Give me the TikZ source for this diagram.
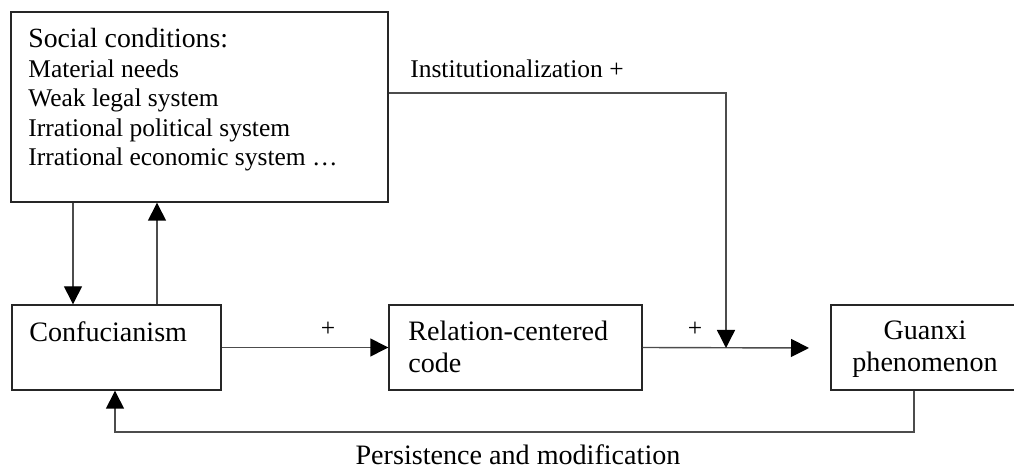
\documentclass[tikz,border=0pt]{standalone}
\usepackage{fontspec}
\setmainfont{Liberation Serif}
\usetikzlibrary{arrows.meta}
\tikzset{
    box/.style={rectangle, draw=black!85, line width=0.8pt, inner sep=0mm}
}
\tikzset{
    txt/.style={inner sep=0mm, font=\fontsize{16}{17.9}\selectfont},
    small/.style={inner sep=0mm, font=\fontsize{14.5}{16.8}\selectfont},
    link/.style={draw=black!70, line width=0.8pt, -{Triangle[length=3.6mm, width=3.6mm, color=black]}}
}

\begin{document}
\begin{tikzpicture}[x=0.2mm, y=-0.2mm]
        \clip (0,0) rectangle (1014,473);
        \node (social) [box, minimum width=75.4mm, minimum height=38mm] at (199.5,107) {};
        \node (conf) [box, minimum width=41.8mm, minimum height=17mm] at (116.5,347.5) {};
        \node (rel) [box, minimum width=50.6mm, minimum height=17mm] at (515.5,347.5) {};
        \node (guanxi) [box, minimum width=37.6mm, minimum height=17mm] at (925,347.5) {};
        \node (socialtxt) [small, align=left, anchor=north west] at (28,28) {{\fontsize{15.8}{17}\selectfont Social conditions:}\\
                Material needs\\ Weak legal system\\ Irrational political system\\ Irrational economic system \dots};
        \node (conftxt) [txt, anchor=north west] at (29,321) {Confucianism};
        \node (reltxt) [txt, align=left, anchor=north west] at (408,321) {Relation-centered\\ code};
        \node (guanxitxt) [txt, align=center, anchor=north] at (925,321) {Guanxi\\ phenomenon};
        \node (insttxt) [small, anchor=base west] at (410,78) {Institutionalization +};
        \node (plusa) [small] at (328,329) {+};
        \node (plusb) [small] at (695,329) {+};
        \node (persist) [txt, anchor=base] at (518,465) {Persistence and modification};
        \coordinate (down) at (73,0);
        \coordinate (up) at (157,0);
        \coordinate (inst) at (726,93);
        \coordinate (join) at (726,348);
        \coordinate (gend) at (809,348);
        \coordinate (fbr) at (914,432);
        \coordinate (fbl) at (115,432);
        \draw [link] (social.south -| down) -- (conf.north -| down);
        \draw [link] (conf.north -| up) -- (social.south -| up);
        \draw [link] (conf) -- (rel);
        \draw [link] (rel.east) -- (gend);
        \draw [link] (social.east |- inst) -- (inst) -- (join);
        \draw [link] (guanxi.south -| fbr) -- (fbr) -- (fbl) -- (conf.south -| fbl);
\end{tikzpicture}
\end{document}
